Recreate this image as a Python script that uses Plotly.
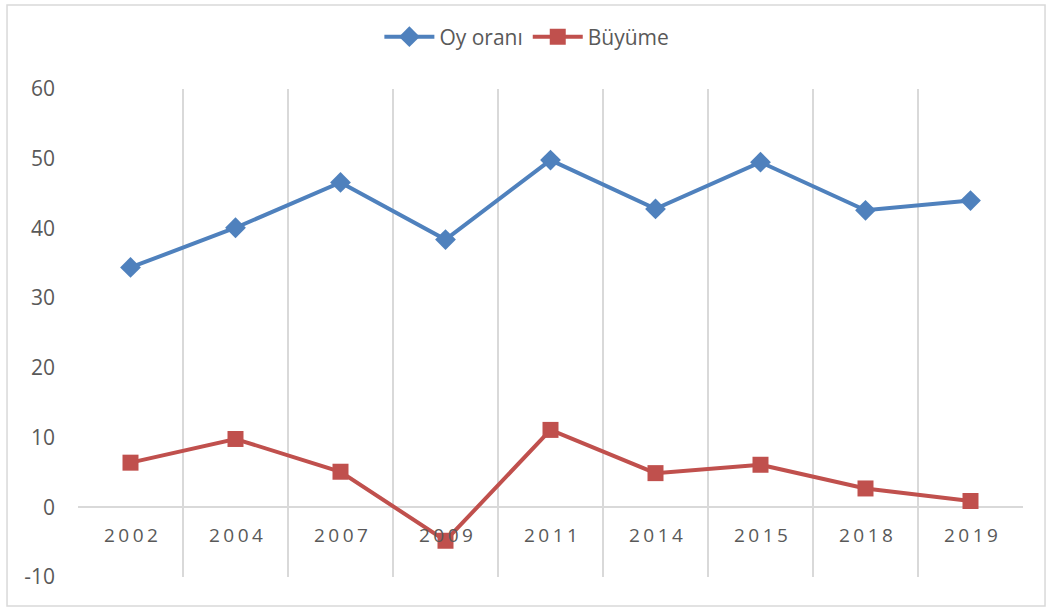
import plotly.graph_objects as go

years = ["2002", "2004", "2007", "2009", "2011", "2014", "2015", "2018", "2019"]
oy_orani = [34.4, 40.1, 46.6, 38.4, 49.8, 42.8, 49.5, 42.6, 44.0]
buyume = [6.4, 9.8, 5.1, -4.8, 11.1, 4.9, 6.1, 2.7, 0.9]
y_ticks = [-10, 0, 10, 20, 30, 40, 50, 60]
y_tick_labels = ["-10", "0", "10", "20", "30", "40", "50", "60"]

BLUE = "#4F81BD"
RED = "#C0504D"
GRID = "#D9D9D9"
TEXT = "#595959"
FONT = "Open Sans"

xpos = list(range(len(years)))

fig = go.Figure()
fig.add_trace(go.Scatter(
    x=xpos, y=oy_orani, name="Oy oranı", mode="lines+markers",
    line=dict(color=BLUE, width=4),
    marker=dict(symbol="diamond", size=16, color=BLUE),
))
fig.add_trace(go.Scatter(
    x=xpos, y=buyume, name="Büyüme", mode="lines+markers",
    line=dict(color=RED, width=4),
    marker=dict(symbol="square", size=16, color=RED),
))

for i, yr in enumerate(years):
    fig.add_annotation(x=i, y=0, xref="x", yref="y",
                       text='<span style="letter-spacing:3.5px">' + yr + '</span>',
                       showarrow=False, yshift=-28, xshift=2,
                       font=dict(family=FONT, size=19, color=TEXT))

fig.add_shape(type="rect", xref="paper", yref="paper",
              x0=-0.0751, x1=1.0233, y0=-0.0594, y1=1.172,
              line=dict(color=GRID, width=1.5), fillcolor="rgba(0,0,0,0)", layer="below")

fig.update_layout(
    width=1049, height=610,
    margin=dict(l=78, r=26, t=89, b=33, autoexpand=False),
    paper_bgcolor="white", plot_bgcolor="white",
    font=dict(family=FONT, color=TEXT, size=21),
    showlegend=True,
    legend=dict(orientation="h", x=0.475, xanchor="center", y=1.1066, yanchor="middle",
                font=dict(family=FONT, size=21, color=TEXT), itemwidth=50,
                bgcolor="rgba(0,0,0,0)"),
    xaxis=dict(range=[-0.5, len(years) - 0.5], tickvals=[i - 0.5 for i in range(len(years) + 1)],
               showticklabels=False, showgrid=True, gridcolor=GRID, gridwidth=2,
               zeroline=False, showline=False, ticks="", automargin=False),
    yaxis=dict(range=[-10, 60], tickvals=y_ticks, ticktext=y_tick_labels, showgrid=False,
               zeroline=True, zerolinecolor=GRID, zerolinewidth=2, showline=False, ticks="",
               ticklabelstandoff=22, automargin=False,
               tickfont=dict(family=FONT, size=21, color=TEXT)),
)

fig.write_html("out.html", config={"displayModeBar": False},
               post_script="document.body.style.margin='0';document.body.style.overflow='hidden';")
